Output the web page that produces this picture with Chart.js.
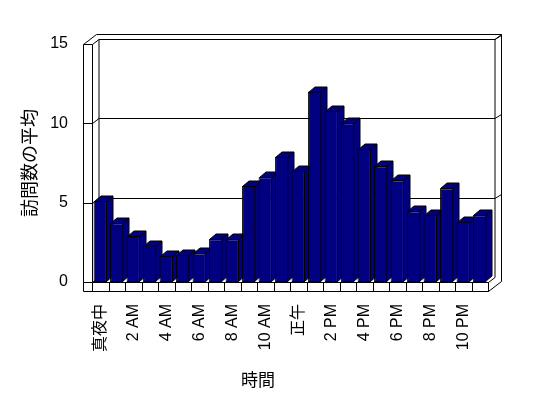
<!DOCTYPE html>
<html>
<head>
<meta charset="utf-8">
<script src="https://cdn.jsdelivr.net/npm/chart.js@4"></script>
<style>
  html, body { margin: 0; padding: 0; background: #ffffff; }
  #wrap { width: 548px; height: 398px; }
</style>
</head>
<body>
<div id="wrap"><canvas id="c" width="548" height="398"></canvas></div>
<script>
// ---- data ----
const categories = ['真夜中','1 AM','2 AM','3 AM','4 AM','5 AM','6 AM','7 AM','8 AM','9 AM','10 AM','11 AM',
                    '正午','1 PM','2 PM','3 PM','4 PM','5 PM','6 PM','7 PM','8 PM','9 PM','10 PM','11 PM'];
const averageVisits = [5.1, 3.7, 2.9, 2.3, 1.65, 1.7, 1.8, 2.7, 2.7, 6.05, 6.6, 7.9,
                       7.0, 12.0, 10.8, 10.0, 8.4, 7.3, 6.4, 4.45, 4.25, 5.9, 3.8, 4.2];
const yTicks = [0, 5, 10, 15];
const yTitle = '訪問数の平均';
const xTitle = '時間';

// ---- styling ----
const BAR = '#000080';
const LINE = '#000000';
const DX = 6.5, DY = -5.5;     // bar depth offset
const WDX = 6.5, WDY = -5;     // back wall offset
const FONT = "'Liberation Sans', 'Noto Sans CJK JP', sans-serif";

function line(ctx, pts) {
  ctx.beginPath();
  ctx.moveTo(pts[0][0], pts[0][1]);
  for (let i = 1; i < pts.length; i++) ctx.lineTo(pts[i][0], pts[i][1]);
  ctx.stroke();
}

const box3d = {
  id: 'box3d',
  beforeDatasetsDraw(chart) {
    const {ctx, chartArea: ca, scales: {x, y}} = chart;
    const L = ca.left, R = ca.right, T = ca.top, B = ca.bottom;
    const OL = L - 9;          // outer front edge of left wall
    const FB = B + 9;          // floor front bottom
    ctx.save();
    ctx.strokeStyle = LINE;
    ctx.lineWidth = 1;
    ctx.translate(0.5, 0.5);
    // back wall edges
    line(ctx, [[L + WDX, y.getPixelForValue(15) + WDY], [R + WDX, y.getPixelForValue(15) + WDY], [R + WDX, B + WDY]]);
    line(ctx, [[L + WDX, y.getPixelForValue(15) + WDY], [L + WDX, B + WDY]]);
    // outer top & right thickness
    line(ctx, [[OL, T], [L + 4, T - 10], [R + 13, T - 10], [R + 13, B - 1], [R, FB]]);
    line(ctx, [[R + WDX, T + WDY], [R + 13, T - 10]]);
    // left wall
    line(ctx, [[OL, T], [OL, FB], [R, FB], [R, B]]);
    line(ctx, [[L, T], [L, B]]);
    line(ctx, [[L, B], [R, B], [R + WDX, B + WDY]]);
    // gridlines at back wall + ticks on left wall
    yTicks.forEach(v => {
      const py = Math.round(y.getPixelForValue(v));
      line(ctx, [[OL, py], [L, py], [L + WDX, py + WDY]]);
      if (v > 0) {
        line(ctx, [[L + WDX, py + WDY], [R + WDX, py + WDY], [R + 13, py + WDY - 4]]);
      }
    });
    // floor category separators
    for (let i = 0; i <= categories.length; i++) {
      const px = Math.round(x.getPixelForValue(i) - (x.getPixelForValue(1) - x.getPixelForValue(0)) / 2);
      line(ctx, [[px, B], [px, FB]]);
    }
    ctx.restore();

    // bar sides and tops
    const meta = chart.getDatasetMeta(0);
    ctx.save();
    ctx.fillStyle = BAR;
    ctx.strokeStyle = LINE;
    ctx.lineWidth = 1;
    meta.data.forEach(bar => {
      const {x: cx, y: top, base, width} = bar.getProps(['x', 'y', 'base', 'width'], true);
      const l = Math.round(cx - width / 2) + 0.5, r = Math.round(cx + width / 2) - 0.5;
      const t = Math.round(top) + 0.5, b = Math.round(base) - 0.5;
      ctx.beginPath();
      ctx.moveTo(r, t); ctx.lineTo(r + DX, t + DY); ctx.lineTo(r + DX, b + DY); ctx.lineTo(r, b); ctx.closePath();
      ctx.fill(); ctx.stroke();
      ctx.beginPath();
      ctx.moveTo(l, t); ctx.lineTo(l + DX, t + DY); ctx.lineTo(r + DX, t + DY); ctx.lineTo(r, t); ctx.closePath();
      ctx.fill(); ctx.stroke();
    });
    ctx.restore();
  },
  afterDraw(chart) {
    const {ctx} = chart;
    ctx.save();
    ctx.fillStyle = '#000';
    ctx.font = "17px 'Noto Sans CJK JP', sans-serif";
    ctx.textAlign = 'center';
    ctx.textBaseline = 'middle';
    ctx.fillText(xTitle, 258, 380);
    ctx.restore();
  }
};

Chart.defaults.color = '#000';

new Chart(document.getElementById('c'), {
  type: 'bar',
  data: {
    labels: categories,
    datasets: [{
      data: averageVisits,
      backgroundColor: BAR,
      borderColor: LINE,
      borderWidth: 1,
      borderSkipped: false,
      barPercentage: 0.81,
      categoryPercentage: 1.0
    }]
  },
  options: {
    responsive: false,
    devicePixelRatio: 1,
    animation: false,
    layout: { padding: { top: 44, right: 60, left: 0, bottom: 0 } },
    plugins: { legend: { display: false }, tooltip: { enabled: false } },
    scales: {
      x: {
        grid: { display: false, drawTicks: false },
        border: { display: false },
        ticks: {
          autoSkip: false, maxRotation: 90, minRotation: 90, padding: 22,
          font: { family: FONT, size: 16 },
          callback: (v, i) => (i % 2 === 0 ? categories[i] : '')
        },
        afterFit: s => { s.height = 116; }
      },
      y: {
        min: 0, max: 15,
        grid: { display: false, drawTicks: false },
        border: { display: false },
        ticks: { stepSize: 5, padding: 24, font: { family: FONT, size: 16 } },
        title: { display: true, text: yTitle, padding: { top: 18, bottom: 0 },
                 font: { family: "'Noto Sans CJK JP', sans-serif", size: 18 } },
        afterFit: s => { s.width = 92; }
      }
    }
  },
  plugins: [box3d]
});
</script>
</body>
</html>
